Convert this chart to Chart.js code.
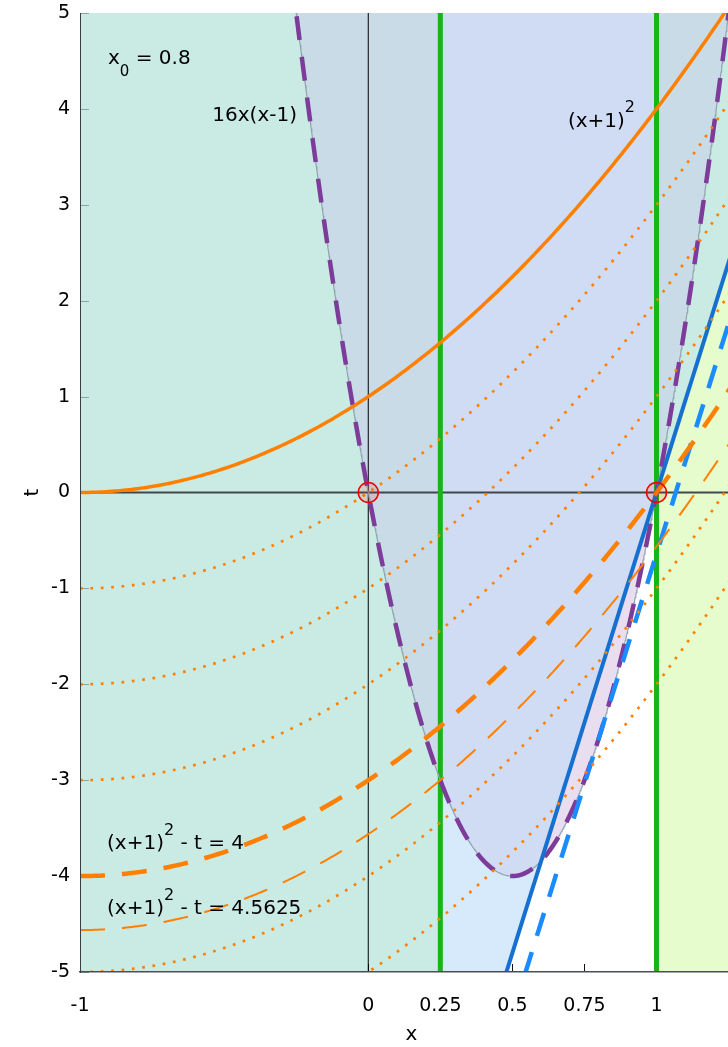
<!DOCTYPE html>
<html>
<head>
<meta charset="utf-8">
<title>Level sets of (x+1)^2 - t and the constraint t = 16x(x-1)</title>
<script src="https://cdn.jsdelivr.net/npm/chart.js@4.4.1/dist/chart.umd.min.js"></script>
<style>
  html, body { margin: 0; padding: 0; background: #ffffff; overflow: hidden; }
  #frame { position: absolute; left: 0; top: 0; width: 743px; height: 1047px; }
  #plot { display: block; }
</style>
</head>
<body>
<div id="frame"><canvas id="plot" width="743" height="1047" style="width:743px;height:1047px"></canvas></div>
<script>
// ---- problem data ----
const x0 = 0.8;                          // linearisation point
const constraintScale = 16;              // t = 16 x (x - 1)
const constraintRoots = [0, 1];
const dottedLevels = [1, 2, 3, 5, 6];    // (x+1)^2 - t = c
const boldLevel = 4;
const thinLevel = 4.5625;
const splitPoints = [0.25, 1];           // vertical green lines
const xTicks = [-1, 0, 0.25, 0.5, 0.75, 1];
const xTickLabels = ['-1', '0', '0.25', '0.5', '0.75', '1'];
const yTicks = [-5, -4, -3, -2, -1, 0, 1, 2, 3, 4, 5];
const yTickLabels = ['-5', '-4', '-3', '-2', '-1', '0', '1', '2', '3', '4', '5'];
const xLimits = [-1, 1.3];
const tLimits = [-5, 5];

// ---- curves ----
const objective = x => (x + 1) * (x + 1);
const constraint = x => constraintScale * x * (x - 1);
const slopeAtX0 = constraintScale * (2 * x0 - 1);
const tangentAtX0 = x => constraint(x0) + slopeAtX0 * (x - x0);
const shiftedTangent = x => slopeAtX0 * (x - constraintRoots[1]);

function sample(f, a, b, n) {
  const pts = [];
  for (let i = 0; i <= n; i++) {
    const x = a + (b - a) * i / n;
    pts.push({ x: x, y: f(x) });
  }
  return pts;
}

const colors = {
  mint: 'rgb(202,235,227)',
  grayBlue: 'rgb(200,219,231)',
  periwinkle: 'rgb(207,220,244)',
  lightBlue: 'rgb(214,234,252)',
  lavender: 'rgb(232,222,240)',
  yellow: 'rgb(230,252,205)',
  orange: '#ff8000',
  purple: '#7d3b9a',
  boundary: '#8fa4ae',
  blue: '#1670d0',
  blueDash: '#1a8cff',
  green: '#18b418',
  red: '#f00000'
};

// datasets are collected bottom layer first
const layers = [];
function region(data, fill, color) {
  layers.push({ data: data, fill: fill, backgroundColor: color, borderColor: 'rgba(0,0,0,0)',
                borderWidth: 0, pointRadius: 0, clip: 0 });
  return layers.length - 1;
}
function curve(data, color, width, dash) {
  layers.push({ data: data, fill: false, borderColor: color, borderWidth: width,
                borderDash: dash || [], borderCapStyle: 'butt', pointRadius: 0, clip: 0 });
}

const [xa, xb] = xLimits;
const [s1, s2] = splitPoints;

// shaded regions
region([{ x: xa, y: tLimits[1] }, { x: xb, y: tLimits[1] }], 'start', colors.mint);
region(sample(shiftedTangent, s1, s2, 1), 'end', colors.lightBlue);
region(sample(shiftedTangent, s1, s2, 1), 'start', '#ffffff');
region(sample(shiftedTangent, s2, xb, 1), 'start', colors.yellow);
region(sample(constraint, xa, s1, 300), 'end', colors.grayBlue);
region(sample(constraint, s2, xb, 120), 'end', colors.grayBlue);
const middleCap = region(sample(constraint, s1, s2, 300), 'end', colors.periwinkle);
region(sample(shiftedTangent, s1, s2, 300),
       { target: middleCap, above: colors.lavender, below: 'rgba(0,0,0,0)' }, colors.lavender);

// reference lines
curve([{ x: 0, y: tLimits[0] }, { x: 0, y: tLimits[1] }], '#000000', 1);
curve([{ x: xa, y: 0 }, { x: xb, y: 0 }], '#40484c', 2);
splitPoints.forEach(s => curve([{ x: s, y: tLimits[0] }, { x: s, y: tLimits[1] }], colors.green, 5));

// constraint boundary 16x(x-1)
const constraintCurve = sample(constraint, -0.3, 1.3, 800);
curve(constraintCurve, colors.boundary, 1.2);
curve(constraintCurve, colors.purple, 4.5, [24, 17]);

// linearisations
curve(sample(shiftedTangent, 0.4, xb, 1), colors.blue, 4);
curve(sample(tangentAtX0, 0.5, xb, 1), colors.blueDash, 4.5, [24, 17]);

// level sets of (x+1)^2 - t
dottedLevels.forEach(c => curve(sample(x => objective(x) - c, xa, xb, 230), colors.orange, 2.7, [2.7, 7.7]));
curve(sample(x => objective(x) - thinLevel, xa, xb, 230), colors.orange, 2, [25, 17]);
curve(sample(x => objective(x) - boldLevel, xa, xb, 230), colors.orange, 4.5, [25, 17]);
curve(sample(objective, xa, xb, 230), colors.orange, 3.5);

// roots of the constraint on t = 0
layers.push({ data: constraintRoots.map(r => ({ x: r, y: 0 })), showLine: false, fill: false,
              pointRadius: 10, pointStyle: 'circle', pointBorderColor: colors.red,
              pointBorderWidth: 1.5, pointBackgroundColor: 'rgba(255,0,0,0.12)', clip: false });

const datasets = layers.map((d, i) => Object.assign(d, { order: layers.length - i }));

// ---- text annotations ----
const labelFont = '"DejaVu Sans"';
const labelLayout = [
  { x: -0.903, t: 4.468, align: 'left', parts: [['x', 0, 20], ['0', 12, 15], [' = 0.8', 0, 20]] },
  { x: -0.2473, t: 3.874, align: 'right', parts: [['16x(x-1)', 0, 20]] },
  { x: 0.6927, t: 3.811, align: 'left', parts: [['(x+1)', 0, 20], ['2', -15, 16]] },
  { x: -0.9063, t: -3.717, align: 'left', parts: [['(x+1)', 0, 20], ['2', -14, 16], [' - t = 4', 0, 20]] },
  { x: -0.9063, t: -4.395, align: 'left', parts: [['(x+1)', 0, 20], ['2', -14, 16], [' - t = 4.5625', 0, 20]] }
];

const tickMarks = {
  id: 'tickMarks',
  beforeDatasetsDraw(chart) {
    const { ctx, chartArea, scales } = chart;
    ctx.save();
    ctx.lineWidth = 1;
    ctx.strokeStyle = '#8ea3a3';
    yTicks.forEach(v => {
      const py = Math.round(scales.y.getPixelForValue(v)) + 0.5;
      ctx.beginPath(); ctx.moveTo(chartArea.left, py); ctx.lineTo(chartArea.left + 9, py); ctx.stroke();
    });
    ctx.strokeStyle = '#111111';
    xTicks.forEach(v => {
      const px = Math.round(scales.x.getPixelForValue(v)) + 0.5;
      ctx.beginPath(); ctx.moveTo(px, chartArea.bottom); ctx.lineTo(px, chartArea.bottom - 8); ctx.stroke();
    });
    ctx.restore();
  }
};

const textLabels = {
  id: 'textLabels',
  afterDatasetsDraw(chart) {
    const { ctx, scales } = chart;
    ctx.save();
    ctx.fillStyle = '#000000';
    ctx.textBaseline = 'alphabetic';
    ctx.textAlign = 'left';
    labelLayout.forEach(l => {
      let px = scales.x.getPixelForValue(l.x);
      const py = scales.y.getPixelForValue(l.t);
      const widths = l.parts.map(p => { ctx.font = p[2] + 'px ' + labelFont; return ctx.measureText(p[0]).width; });
      const total = widths.reduce((a, b) => a + b, 0);
      if (l.align === 'right') px -= total;
      l.parts.forEach((p, i) => {
        ctx.font = p[2] + 'px ' + labelFont;
        ctx.fillText(p[0], px, py + p[1]);
        px += widths[i];
      });
    });
    ctx.restore();
  }
};

const tickFont = { family: 'DejaVu Sans', size: 19 };
const titleFont = { family: 'DejaVu Sans', size: 20 };

new Chart(document.getElementById('plot'), {
  type: 'line',
  data: { datasets: datasets },
  options: {
    responsive: false,
    maintainAspectRatio: false,
    animation: false,
    devicePixelRatio: 1,
    events: [],
    layout: { autoPadding: false, padding: { top: 13, right: 0, bottom: 0, left: 0 } },
    elements: { point: { radius: 0 }, line: { tension: 0 } },
    plugins: {
      legend: { display: false },
      tooltip: { enabled: false },
      filler: { drawTime: 'beforeDatasetsDraw', propagate: false }
    },
    scales: {
      x: {
        type: 'linear', min: xLimits[0], max: xLimits[1],
        afterBuildTicks: s => { s.ticks = xTicks.map(v => ({ value: v })); },
        afterFit: s => { s.height = 75; s.paddingLeft = 0; s.paddingRight = 0; },
        grid: { display: false, drawTicks: false },
        border: { display: true, color: '#4a4f55', width: 1.5, z: 1 },
        ticks: { autoSkip: false, maxRotation: 0, padding: 23, color: '#000000', font: tickFont,
                 callback: (v, i) => xTickLabels[i] },
        title: { display: true, text: 'x', color: '#000000', font: titleFont, padding: { top: 0, bottom: 0 } }
      },
      y: {
        type: 'linear', min: tLimits[0], max: tLimits[1],
        afterBuildTicks: s => { s.ticks = yTicks.map(v => ({ value: v })); },
        afterFit: s => { s.width = 80; s.paddingTop = 0; s.paddingBottom = 0; },
        grid: { display: false, drawTicks: false },
        border: { display: true, color: '#3a3f44', width: 1, z: 1 },
        ticks: { padding: 10, color: '#000000', font: tickFont, callback: (v, i) => yTickLabels[i] },
        title: { display: true, text: 't', color: '#000000', font: titleFont, padding: { top: 21, bottom: 0 } }
      }
    }
  },
  plugins: [tickMarks, textLabels]
});
</script>
</body>
</html>
